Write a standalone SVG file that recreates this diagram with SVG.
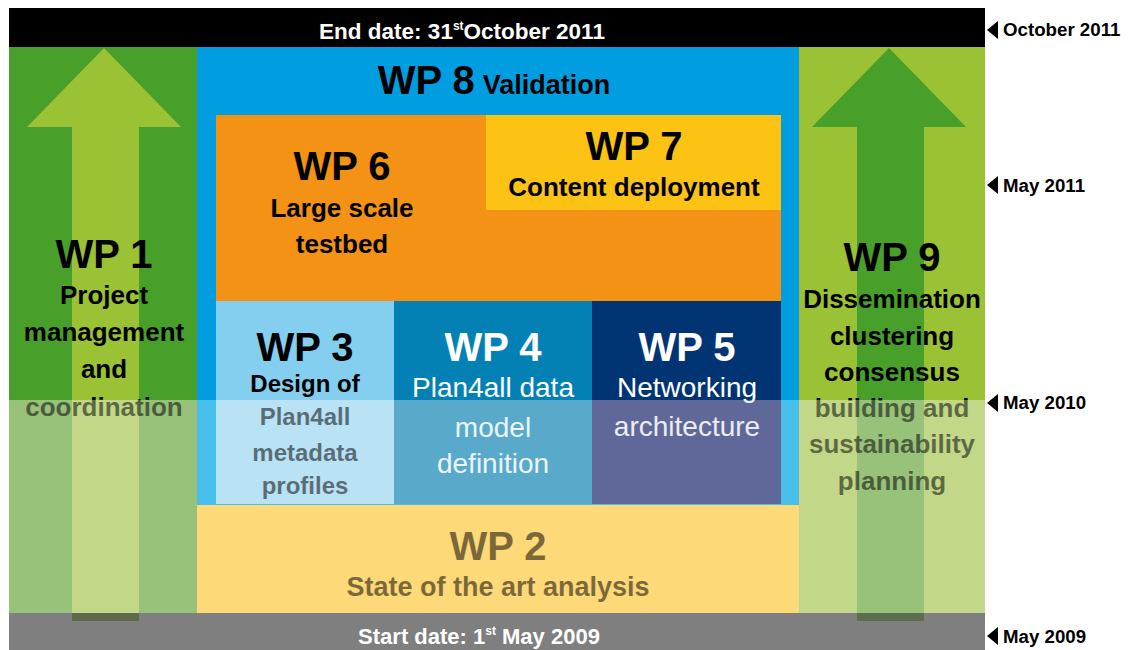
<svg xmlns="http://www.w3.org/2000/svg" width="1128" height="650" viewBox="0 0 1128 650">
<style>
text{font-family:"Liberation Sans",Arial,sans-serif;text-anchor:middle}
.b{font-weight:bold}
.wp{font-weight:bold;font-size:40px}
.sub{font-weight:bold;font-size:26px}
.sub3{font-weight:bold;font-size:24px}
.reg{font-size:28px}
.dk{fill:url(#fadeK)}
.wh{fill:url(#fadeW)}
.date{font-weight:bold;font-size:18.7px;text-anchor:start;fill:#000}
</style>
<defs>
<linearGradient id="fadeK" gradientUnits="userSpaceOnUse" x1="0" y1="0" x2="0" y2="650">
<stop offset="0.6154" stop-color="#000" stop-opacity="1"/>
<stop offset="0.6154" stop-color="#000" stop-opacity="0.52"/>
</linearGradient>
<linearGradient id="fadeW" gradientUnits="userSpaceOnUse" x1="0" y1="0" x2="0" y2="650">
<stop offset="0.6154" stop-color="#fff" stop-opacity="1"/>
<stop offset="0.6154" stop-color="#fff" stop-opacity="0.88"/>
</linearGradient>
<polygon id="tri" points="0,0 11,-9 11,9" fill="#000"/>
</defs>
<rect width="1128" height="650" fill="#fff"/>

<g id="end-bar">
<rect x="9" y="8" width="976" height="39" fill="#000"/>
<text x="462" y="39" class="b" font-size="22.5" fill="#fff">End date: 31<tspan font-size="12" dy="-9">st</tspan><tspan dy="9">October 2011</tspan></text>
</g>

<g id="wp1">
<rect x="9" y="47" width="188" height="353" fill="#48a02a"/>
<rect x="9" y="400" width="188" height="214" fill="#98c17a"/>
<polygon points="104,48 181,127 139,127 139,400 72,400 72,127 27,127" fill="#9bc134"/>
<rect x="72" y="400" width="67" height="214" fill="#c2d888"/>
<text x="104" y="268" class="wp dk" font-size="42">WP 1</text>
<text x="104" y="304" class="sub dk">Project</text>
<text x="104" y="341" class="sub dk">management</text>
<text x="104" y="378" class="sub dk">and</text>
<text x="104" y="416" class="sub dk">coordination</text>
</g>

<g id="wp9">
<rect x="799" y="47" width="186" height="353" fill="#9bc134"/>
<rect x="799" y="400" width="186" height="214" fill="#c2d888"/>
<polygon points="889,48 966,127 924,127 924,400 857,400 857,127 812,127" fill="#48a02a"/>
<rect x="857" y="400" width="67" height="214" fill="#98c17a"/>
<text x="892" y="271" class="wp dk">WP 9</text>
<text x="892" y="308" class="sub dk">Dissemination</text>
<text x="892" y="345" class="sub dk">clustering</text>
<text x="892" y="381" class="sub dk">consensus</text>
<text x="892" y="417" class="sub dk">building and</text>
<text x="892" y="453" class="sub dk">sustainability</text>
<text x="892" y="490" class="sub dk">planning</text>
</g>

<g id="wp8">
<rect x="197" y="47" width="602" height="353" fill="#009ee0"/>
<rect x="197" y="400" width="602" height="105" fill="#47bfea"/>
<text x="494" y="94" class="b dk"><tspan font-size="40">WP 8</tspan><tspan font-size="27" dx="8">Validation</tspan></text>
</g>

<g id="wp6">
<rect x="216" y="115" width="565" height="186" fill="#f39215"/>
<text x="342" y="180" class="wp dk">WP 6</text>
<text x="342" y="217" class="sub dk">Large scale</text>
<text x="342" y="253" class="sub dk">testbed</text>
</g>

<g id="wp7">
<rect x="486" y="115" width="295" height="95" fill="#fcc315"/>
<text x="634" y="160" class="wp dk">WP 7</text>
<text x="634" y="196" class="sub dk">Content deployment</text>
</g>

<g id="wp3">
<rect x="216" y="301" width="178" height="99" fill="#84cff0"/>
<rect x="216" y="400" width="178" height="104" fill="#b9e2f5"/>
<text x="305" y="361" class="wp dk">WP 3</text>
<text x="305" y="392" class="sub3 dk">Design of</text>
<text x="305" y="425" class="sub3 dk">Plan4all</text>
<text x="305" y="461" class="sub3 dk">metadata</text>
<text x="305" y="494" class="sub3 dk">profiles</text>
</g>

<g id="wp4">
<rect x="394" y="301" width="198" height="99" fill="#0381b5"/>
<rect x="394" y="400" width="198" height="104" fill="#58a9ca"/>
<text x="493" y="361" class="wp wh">WP 4</text>
<text x="493" y="397" class="reg wh">Plan4all data</text>
<text x="493" y="437" class="reg wh">model</text>
<text x="493" y="473" class="reg wh">definition</text>
</g>

<g id="wp5">
<rect x="592" y="301" width="189" height="99" fill="#003473"/>
<rect x="592" y="400" width="189" height="104" fill="#60689a"/>
<text x="687" y="361" class="wp wh">WP 5</text>
<text x="687" y="397" class="reg wh">Networking</text>
<text x="687" y="436" class="reg wh">architecture</text>
</g>

<g id="wp2">
<rect x="197" y="505" width="602" height="109" fill="#fed978"/>
<text x="498" y="560" class="wp dk">WP 2</text>
<text x="498" y="596" class="b dk" font-size="27">State of the art analysis</text>
</g>

<g id="start-bar">
<rect x="9" y="613" width="976" height="37" fill="#7f7f80"/>
<rect x="72" y="613" width="67" height="8" fill="#5f6a4c"/>
<rect x="857" y="613" width="67" height="8" fill="#5c6e4f"/>
<text x="479" y="644" class="b" font-size="22" fill="#fff">Start date: 1<tspan font-size="12" dy="-9">st</tspan><tspan dy="9"> May 2009</tspan></text>
</g>

<g id="timeline">
<use href="#tri" x="987" y="30"/>
<text x="1003" y="36" class="date">October 2011</text>
<use href="#tri" x="987" y="185"/>
<text x="1003" y="192" class="date">May 2011</text>
<use href="#tri" x="987" y="403"/>
<text x="1003" y="409" class="date">May 2010</text>
<use href="#tri" x="987" y="636"/>
<text x="1003" y="643" class="date">May 2009</text>
</g>
</svg>
